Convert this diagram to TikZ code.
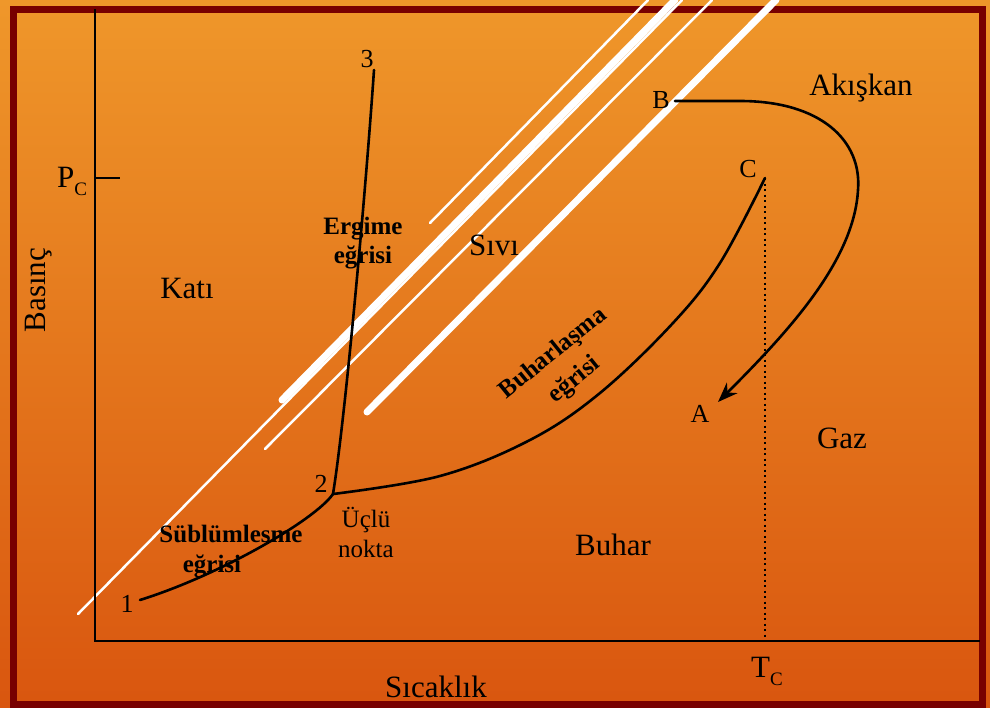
\documentclass[tikz,border=0pt]{standalone}
\usepackage{fontspec}
\setmainfont{Liberation Serif}
\usetikzlibrary{arrows.meta}
\definecolor{bgtop}{HTML}{EF972A}
\definecolor{bgbottom}{HTML}{D9560F}
\definecolor{frame}{HTML}{780000}

\begin{document}
\begin{tikzpicture}[
    x=1pt, y=-1pt,
    lbl/.style={font=\fontsize{31}{34}\selectfont, inner sep=0pt, anchor=base},
    note/.style={font=\fontsize{25}{30}\selectfont, align=center, inner sep=0pt},
    curvename/.style={font=\bfseries\fontsize{25}{29}\selectfont, align=center, inner sep=0pt},
    pointlbl/.style={font=\fontsize{26}{28}\selectfont, inner sep=0pt, anchor=base},
    curve/.style={line width=2.6pt, line join=round, line cap=round},
    axis/.style={line width=2.2pt},
    guide/.style={white, line width=2.5pt, line cap=round},
    guidethick/.style={white, line width=7pt, line cap=round},
    flow/.style={curve, -{Stealth[length=20pt, width=15pt]}}
  ]
    \useasboundingbox (0,0) rectangle (990,707);
    \shade[top color=bgtop, bottom color=bgbottom] (0,0) rectangle (990,707);
    \draw[frame, line width=7pt] (13,9.5) rectangle (982.5,704);

    \draw[guide] (430,223) -- (648,0);
    \draw[guidethick] (282,400) -- (675,0);
    \draw[guide] (78,614) -- (682,0);
    \draw[guide] (265,449) -- (712,0);
    \draw[guidethick] (367,412) -- (776,0);

    \coordinate (origin) at (95,641);
    \coordinate (ytop) at (95,9);
    \coordinate (xend) at (980,641);
    \coordinate (pctick) at (120,178);
    \coordinate (p1) at (140,600);
    \coordinate (p2) at (333,494);
    \coordinate (p3) at (374,70);
    \coordinate (crit) at (765,178);
    \coordinate (tcfoot) at (765,641);
    \coordinate (pb) at (675,101);
    \coordinate (pa) at (718,402);

    \draw[axis] (ytop) -- (origin) -- (xend);
    \draw[axis] (95,178) -- (pctick);
    \draw[line width=2pt, dash pattern=on 2pt off 3.5pt] (crit) -- (tcfoot);

    \draw[curve] (p1) .. controls (220,575) and (315,520) .. (p2);
    \draw[curve] (p2) .. controls (345,420) and (365,200) .. (p3);
    \draw[curve] plot[smooth, tension=0.6] coordinates {(333,494) (440,476) (530,440) (600,393) (673,323) (720,263) (765,178)};
    \draw[flow] (pb) -- (740,101) .. controls (820,101) and (862,140) .. (858,190)
      .. controls (854,260) and (790,330) .. (pa);

    \node[lbl, rotate=90] (pressure) at (45,290) {Basınç};
    \node[lbl, anchor=base west] (pclabel) at (57,187) {P\raisebox{-8pt}{\fontsize{19}{19}\selectfont C}};
    \node[lbl] (temperature) at (436,697) {Sıcaklık};
    \node[lbl, anchor=base west] (tclabel) at (751,677) {T\raisebox{-8pt}{\fontsize{19}{19}\selectfont C}};
    \node[lbl] (solid) at (187,298) {Katı};
    \node[lbl] (liquid) at (494,255) {Sıvı};
    \node[lbl] (fluid) at (861,95) {Akışkan};
    \node[lbl] (gas) at (842,448) {Gaz};
    \node[lbl] (vapour) at (613,555) {Buhar};
    \node[note] (triple) at (366,532) {Üçlü\\nokta};
    \node[curvename] (melting) at (363,243) {Ergime\\eğrisi};
    \node[curvename, anchor=base] (sublim) at (231,542) {Süblümlesme};
    \node[curvename, anchor=base] (sublimb) at (212,572) {eğrisi};
    \node[curvename, font=\bfseries\fontsize{25}{34}\selectfont, rotate=39] (boiling) at (564,367) {Buharlaşma\\eğrisi};
    \node[pointlbl] (n1) at (127,612) {1};
    \node[pointlbl] (n2) at (321,492) {2};
    \node[pointlbl] (n3) at (367,67) {3};
    \node[pointlbl] (la) at (700,422) {A};
    \node[pointlbl] (lb) at (661,108) {B};
    \node[pointlbl] (lc) at (748,177) {C};
\end{tikzpicture}
\end{document}
